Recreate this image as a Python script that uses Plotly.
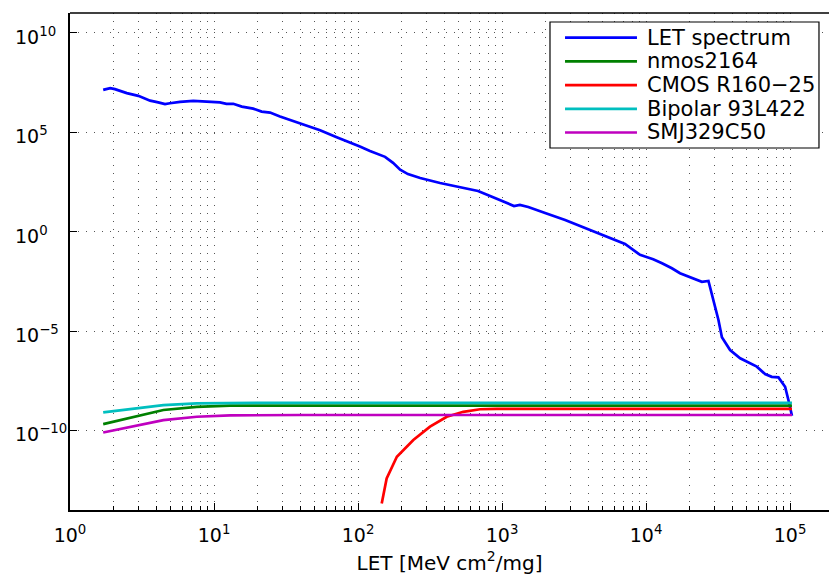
import plotly.graph_objects as go

# ---------------- data ----------------
let_x = [1.70, 1.90, 2.05, 2.48, 2.98, 3.60, 4.10, 4.57, 4.94, 5.81, 7.18, 8.89, 11.0, 12.2, 13.6,
         15.6, 18.7, 21.4, 24.5, 28.7, 35.6, 44.1, 54.5, 71.1, 83.6, 103, 121, 154, 175, 196,
         222, 270, 371, 511, 681, 826, 968, 1100, 1210, 1330, 1520, 1990, 2740, 3770, 5190,
         7140, 9080, 1.12e4, 1.29e4, 1.51e4, 1.72e4, 2.02e4, 2.44e4, 2.71e4, 2.93e4, 3.18e4,
         3.36e4, 3.83e4, 4.50e4, 5.00e4, 5.87e4, 6.70e4, 7.46e4, 8.30e4, 9.23e4, 9.73e4, 1.03e5]
let_y = [1.35e7, 1.66e7, 1.48e7, 9.3e6, 6.8e6, 3.9e6, 3.2e6, 2.6e6, 2.9e6, 3.4e6, 3.8e6, 3.5e6,
         3.2e6, 2.7e6, 2.7e6, 1.95e6, 1.55e6, 1.10e6, 9.8e5, 6.2e5, 3.7e5, 2.1e5, 1.26e5, 5.6e4,
         3.6e4, 1.9e4, 1.15e4, 5.8e3, 2.9e3, 1.3e3, 790, 500, 280, 180, 112, 63, 40, 27.5, 19.5,
         22, 17.4, 8.7, 3.9, 1.55, 0.61, 0.24, 0.068, 0.041, 0.026, 0.0145, 8.1e-3, 5.1e-3,
         3.0e-3, 3.3e-3, 3.6e-4, 3.6e-5, 4.9e-6, 1.12e-6, 4.3e-7, 2.9e-7, 1.62e-7, 6.9e-8,
         5.0e-8, 4.7e-8, 1.58e-8, 3.4e-9, 5.5e-10]

nmos_x = [1.70, 2.61, 4.45, 7.59, 12.9, 39.5, 1.03e5]
nmos_y = [2.1e-10, 4.4e-10, 1.07e-9, 1.55e-9, 1.78e-9, 1.78e-9, 1.78e-9]

cmos_x = [146, 158, 186, 242, 316, 413, 538, 703, 918, 1.03e5]
cmos_y = [2.1e-14, 3.9e-13, 4.8e-12, 3.3e-11, 1.55e-10, 4.9e-10, 8.7e-10, 1.17e-9, 1.23e-9, 1.23e-9]

bip_x = [1.70, 2.61, 4.45, 7.59, 19.8, 1.03e5]
bip_y = [8.1e-10, 1.2e-9, 1.9e-9, 2.3e-9, 2.45e-9, 2.45e-9]

smj_x = [1.70, 2.61, 4.45, 7.59, 12.9, 39.5, 1.03e5]
smj_y = [7.9e-11, 1.55e-10, 3.3e-10, 4.9e-10, 5.75e-10, 6.0e-10, 6.0e-10]

series_names = ["LET spectrum", "nmos2164", "CMOS R160\u221225", "Bipolar 93L422", "SMJ329C50"]
series_colors = ["#0000FF", "#008000", "#FF0000", "#00BFBF", "#BF00BF"]

x_tickvals = [1, 10, 100, 1e3, 1e4, 1e5]
x_ticktext = ["10<sup>0</sup>", "10<sup>1</sup>", "10<sup>2</sup>", "10<sup>3</sup>",
              "10<sup>4</sup>", "10<sup>5</sup>"]
y_tickvals = [1e-10, 1e-5, 1, 1e5, 1e10]
y_tick_exp = [-10, -5, 0, 5, 10]
y_ticktext = ["10<sup>\u221210</sup>", "10<sup>\u22125</sup>", "10<sup>0</sup>",
              "10<sup>5</sup>", "10<sup>10</sup>"]

# ---------------- figure ----------------
FONT = "DejaVu Sans, Verdana, sans-serif"
FS = 19
FS_LEG = 21
FS_TITLE = 20
fig = go.Figure()
all_x = [let_x, nmos_x, cmos_x, bip_x, smj_x]
all_y = [let_y, nmos_y, cmos_y, bip_y, smj_y]
for xs, ys, nm, col in zip(all_x, all_y, series_names, series_colors):
    fig.add_trace(go.Scatter(x=xs, y=ys, mode="lines", name=nm,
                             line=dict(color=col, width=2.7), showlegend=False))

grid_dash = "1px,7px"
fig.update_xaxes(type="log", range=[0, 5.27],
                 tickvals=x_tickvals, ticktext=x_ticktext,
                 ticks="inside", ticklen=7, tickcolor="black", tickwidth=1,
                 ticklabelstandoff=7,
                 showline=True, linecolor="black", linewidth=1.5,
                 showgrid=True, gridcolor="#555", gridwidth=1, griddash=grid_dash,
                 minor=dict(dtick="D1", ticks="inside", ticklen=4, tickcolor="black",
                            showgrid=True, gridcolor="#555", gridwidth=1, griddash=grid_dash),
                 zeroline=False,
                 tickfont=dict(family=FONT, size=FS, color="black"),
                 title=dict(text="LET [MeV cm<sup>2</sup>/mg]",
                            font=dict(family=FONT, size=FS_TITLE, color="black"), standoff=11))
fig.update_yaxes(type="log", range=[-14, 11],
                 tickvals=y_tickvals, showticklabels=False,
                 ticks="inside", ticklen=7, tickcolor="black", tickwidth=1,
                 showline=True, linecolor="black", linewidth=1.5,
                 showgrid=True, gridcolor="#555", gridwidth=1, griddash=grid_dash,
                 zeroline=False)

# y tick labels, left-aligned like Matlab
for ex, txt in zip(y_tick_exp, y_ticktext):
    fig.add_annotation(xref="paper", yref="y", x=-0.0751, y=ex, text=txt,
                       showarrow=False, xanchor="left", yanchor="middle", yshift=-3,
                       font=dict(family=FONT, size=FS, color="black"))

# top border
fig.add_shape(type="line", xref="paper", yref="paper", x0=0, x1=1, y0=1, y1=1,
              line=dict(color="black", width=1.5))

# custom legend (Matlab style)
fig.add_shape(type="rect", xref="paper", yref="paper", x0=0.6324, x1=0.9868,
              y0=0.7284, y1=0.9819, line=dict(color="black", width=1.2), fillcolor="white")
row_y = [0.9503, 0.9026, 0.8549, 0.8072, 0.7596]
for ry, nm, col in zip(row_y, series_names, series_colors):
    fig.add_shape(type="line", xref="paper", yref="paper", x0=0.6522, x1=0.7470,
                  y0=ry, y1=ry, line=dict(color=col, width=2.7))
    fig.add_annotation(xref="paper", yref="paper", x=0.7575, y=ry, text=nm,
                       showarrow=False, xanchor="left", yanchor="middle",
                       font=dict(family=FONT, size=FS_LEG, color="black"))

fig.update_layout(width=829, height=575,
                  margin=dict(l=70, r=0, t=13, b=65),
                  paper_bgcolor="white", plot_bgcolor="white",
                  showlegend=False)

fig.write_html("out.html")
